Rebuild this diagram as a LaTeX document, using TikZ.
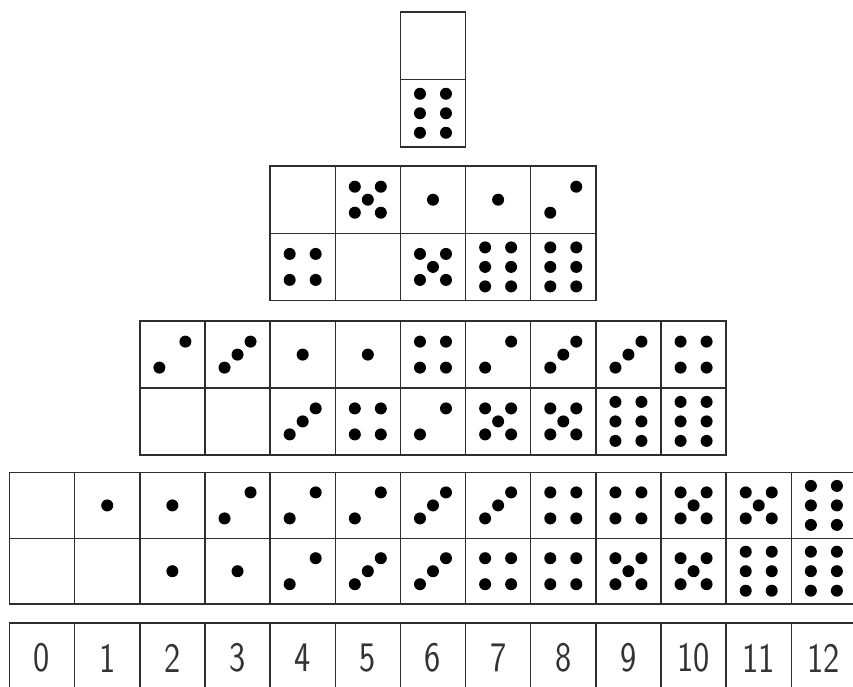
\documentclass[tikz,border=0pt]{standalone}
\usepackage{graphicx}
\tikzset{
  half/.style={draw=black!82, line width=1.5pt, minimum width=65.15pt, inner sep=0pt, outer sep=0pt},
  numbox/.style={draw=black!82, line width=1.5pt, minimum width=65.15pt, minimum height=70pt, inner sep=0pt, outer sep=0pt},
  numtext/.style={text=black!80, inner sep=0pt, font=\fontsize{42}{42}\selectfont\sffamily},
  pipc/.style={fill=black}
}
\newcommand\pip[3]{\fill[pipc] ([shift={(#2,#3)}]#1.center) circle[radius=6pt];}
\newcommand\pipset[2]{%
  \ifcase#1\relax
  \or \pip{#2}{0}{0}%
  \or \pip{#2}{-13}{13}\pip{#2}{13}{-13}%
  \or \pip{#2}{-13}{13}\pip{#2}{0}{0}\pip{#2}{13}{-13}%
  \or \pip{#2}{-13}{-13}\pip{#2}{13}{-13}\pip{#2}{-13}{13}\pip{#2}{13}{13}%
  \or \pip{#2}{-13}{-13}\pip{#2}{13}{-13}\pip{#2}{-13}{13}\pip{#2}{13}{13}\pip{#2}{0}{0}%
  \or \pip{#2}{-13}{-19.5}\pip{#2}{13}{-19.5}\pip{#2}{-13}{0}\pip{#2}{13}{0}\pip{#2}{-13}{19.5}\pip{#2}{13}{19.5}%
  \fi}
% #1 name, #2 column, #3 y of middle line, #4 half height, #5 top pips, #6 bottom pips
\newcommand\domino[6]{%
  \node[half, minimum height=#4pt] (#1t) at ({9.5+65.15*(#2+0.5)}, {#3-#4/2}) {};
  \node[half, minimum height=#4pt] (#1b) at ({9.5+65.15*(#2+0.5)}, {#3+#4/2}) {};
  \pipset{#5}{#1t}\pipset{#6}{#1b}}
\begin{document}
\begin{tikzpicture}[x=1pt,y=-1pt]
\useasboundingbox (0,0) rectangle (853,686);
\clip (0,0) rectangle (853,686);
% row 1
\domino{ra6}{6}{79.5}{67.5}{0}{6}
% row 2
\foreach \c/\t/\b in {4/0/4, 5/5/0, 6/1/5, 7/1/6, 8/2/6}
  {\domino{rb\c}{\c}{233.3}{67.2}{\t}{\b}}
% row 3
\foreach \c/\t/\b in {2/2/0, 3/3/0, 4/1/3, 5/1/4, 6/4/2, 7/2/5, 8/3/5, 9/3/6, 10/4/6}
  {\domino{rc\c}{\c}{388}{66.8}{\t}{\b}}
% row 4
\foreach \c/\t/\b in {0/0/0, 1/1/0, 2/1/1, 3/2/1, 4/2/2, 5/2/3, 6/3/3, 7/3/4, 8/4/4, 9/4/5, 10/5/5, 11/5/6, 12/6/6}
  {\domino{rd\c}{\c}{538.3}{65.8}{\t}{\b}}
% number row
\foreach \c in {0,...,12}{
  \node[numbox] (n\c) at ({9.5+65.15*(\c+0.5)}, 658) {};
  \node[numtext] (t\c) at (n\c.center) {\scalebox{0.82}[1]{\c}};
}
\end{tikzpicture}
\end{document}
